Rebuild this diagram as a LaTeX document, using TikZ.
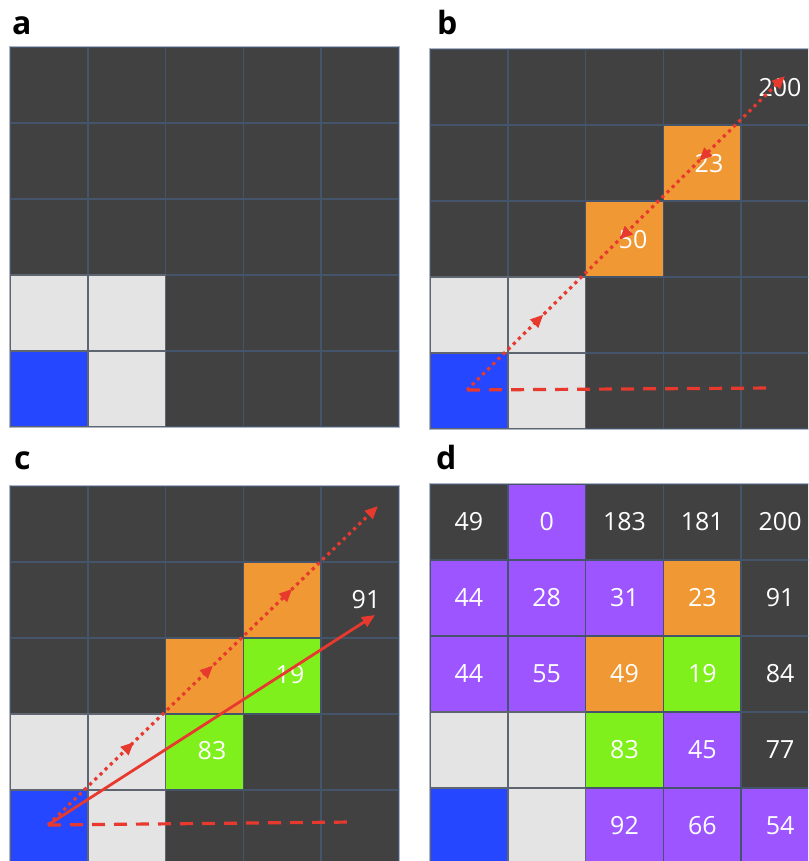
\documentclass[tikz,border=0pt]{standalone}
\usepackage{fontspec}
\setmainfont{Open Sans}
\usetikzlibrary{arrows.meta,decorations.markings}
\definecolor{darkc}{HTML}{414141}
\definecolor{gridc}{HTML}{44546A}
\definecolor{lightc}{HTML}{E4E4E4}
\definecolor{lightb}{HTML}{5E6570}
\definecolor{bluec}{HTML}{2447FF}
\definecolor{orangec}{HTML}{F09833}
\definecolor{greenc}{HTML}{80F01C}
\definecolor{purplec}{HTML}{9D55FF}
\definecolor{redc}{HTML}{E8392F}
\definecolor{framec}{HTML}{AEB5C0}
\tikzset{
  cellbox/.style={minimum width=77.8pt,minimum height=76pt,inner sep=0pt,outer sep=0pt,draw=none},
  cd/.style={fill=darkc}, cl/.style={fill=lightc}, cb/.style={fill=bluec},
  co/.style={fill=orangec}, cg/.style={fill=greenc}, cp/.style={fill=purplec},
  gridline/.style={draw=gridc,line width=1.6pt},
  lightborder/.style={draw=lightb,line width=1.6pt},
  framebox/.style={draw=framec,line width=1pt},
  num/.style={text=white,font=\fontsize{25}{25}\selectfont,inner sep=0pt},
  plabel/.style={font=\fontsize{32}{32}\selectfont\bfseries,anchor=base west,inner sep=0pt},
  dotline/.style={draw=redc,line width=3.2pt,dash pattern=on 3.2pt off 4pt},
  dashline/.style={draw=redc,line width=3.2pt,dash pattern=on 13pt off 9pt},
  solidline/.style={draw=redc,line width=2.8pt},
}
\newcommand\gridpanel[4]{%
  \foreach \cc [count=\i from 0] in {#4} {%
    \pgfmathtruncatemacro\col{mod(\i,5)}%
    \pgfmathtruncatemacro\row{div(\i,5)}%
    \node[cellbox,\cc] (#1-\row-\col) at ({#2+(\col+0.5)*77.8},{#3+(\row+0.5)*76}) {};
  }
  \foreach \k in {0,...,5} {
    \draw[gridline] ({#2+\k*77.8},#3) -- ({#2+\k*77.8},{#3+380});
    \draw[gridline] (#2,{#3+\k*76}) -- ({#2+389},{#3+\k*76});
  }
  \foreach \r/\c in {3/0,3/1,4/0,4/1}
    \draw[lightborder] (#1-\r-\c.north west) rectangle (#1-\r-\c.south east);
  \draw[framebox] ({#2-0.8},{#3-0.8}) rectangle ({#2+389.8},{#3+380.8});
}
\begin{document}
\begin{tikzpicture}[x=1pt,y=-1pt]
\useasboundingbox (0,0) rectangle (808,861);
\clip (0,0) rectangle (808,861);
% panel labels
\node[plabel] (la) at (12,35) {a};
\node[plabel] (lb) at (437,35) {b};
\node[plabel] (lc) at (14,469) {c};
\node[plabel] (ld) at (436,469) {d};
% panel a
\gridpanel{A}{10}{47}{cd,cd,cd,cd,cd, cd,cd,cd,cd,cd, cd,cd,cd,cd,cd, cl,cl,cd,cd,cd, cb,cl,cd,cd,cd}
% panel b
\gridpanel{B}{430}{49}{cd,cd,cd,cd,cd, cd,cd,cd,co,cd, cd,cd,co,cd,cd, cl,cl,cd,cd,cd, cb,cl,cd,cd,cd}
% panel c
\gridpanel{C}{10}{486}{cd,cd,cd,cd,cd, cd,cd,cd,co,cd, cd,cd,co,cg,cd, cl,cl,cg,cd,cd, cb,cl,cd,cd,cd}
% panel d
\gridpanel{D}{430}{484}{cd,cp,cd,cd,cd, cp,cp,cp,co,cd, cp,cp,co,cg,cd, cl,cl,cg,cp,cd, cb,cl,cp,cp,cp}
% panel b numbers
\node[num] (b200) at (780,88) {200};
\node[num] (b23) at (709,164) {23};
\node[num] (b50) at (633,240) {50};
% panel c numbers
\node[num] (c91) at (366,600) {91};
\node[num] (c19) at (290,675) {19};
\node[num] (c83) at (212,751) {83};
% panel d numbers
\foreach \r/\c/\t in {0/0/49,0/1/0,0/2/183,0/3/181,0/4/200,
  1/0/44,1/1/28,1/2/31,1/3/23,1/4/91,
  2/0/44,2/1/55,2/2/49,2/3/19,2/4/84,
  3/2/83,3/3/45,3/4/77,
  4/2/92,4/3/66,4/4/54}
  \node[num] (dn-\r-\c) at (D-\r-\c) {\t};
% panel b lines
\coordinate (bO) at (467,390);
\coordinate (bT) at (785,76);
\coordinate (bD) at (773,388);
\draw[dashline] (bO) -- (bD);
\draw[dotline,-{Triangle[length=13pt,width=11pt]},postaction={decorate},
  decoration={markings,
    mark=at position 0.24 with {\arrow{Triangle[length=13pt,width=11pt]}},
    mark=at position 0.48 with {\arrowreversed{Triangle[length=13pt,width=11pt]}},
    mark=at position 0.73 with {\arrowreversed{Triangle[length=13pt,width=11pt]}}}]
  (bO) -- (bT);
% panel c lines
\coordinate (cO) at (48,825);
\coordinate (cT) at (378,506);
\coordinate (cS) at (375,615);
\coordinate (cD) at (353,822);
\draw[dashline] (cO) -- (cD);
\draw[dotline,-{Triangle[length=13pt,width=11pt]},postaction={decorate},
  decoration={markings,
    mark=at position 0.26 with {\arrow{Triangle[length=13pt,width=11pt]}},
    mark=at position 0.50 with {\arrow{Triangle[length=13pt,width=11pt]}},
    mark=at position 0.74 with {\arrow{Triangle[length=13pt,width=11pt]}}}]
  (cO) -- (cT);
\draw[solidline,-{Triangle[length=13pt,width=11pt]}] (cO) -- (cS);
\end{tikzpicture}
\end{document}
